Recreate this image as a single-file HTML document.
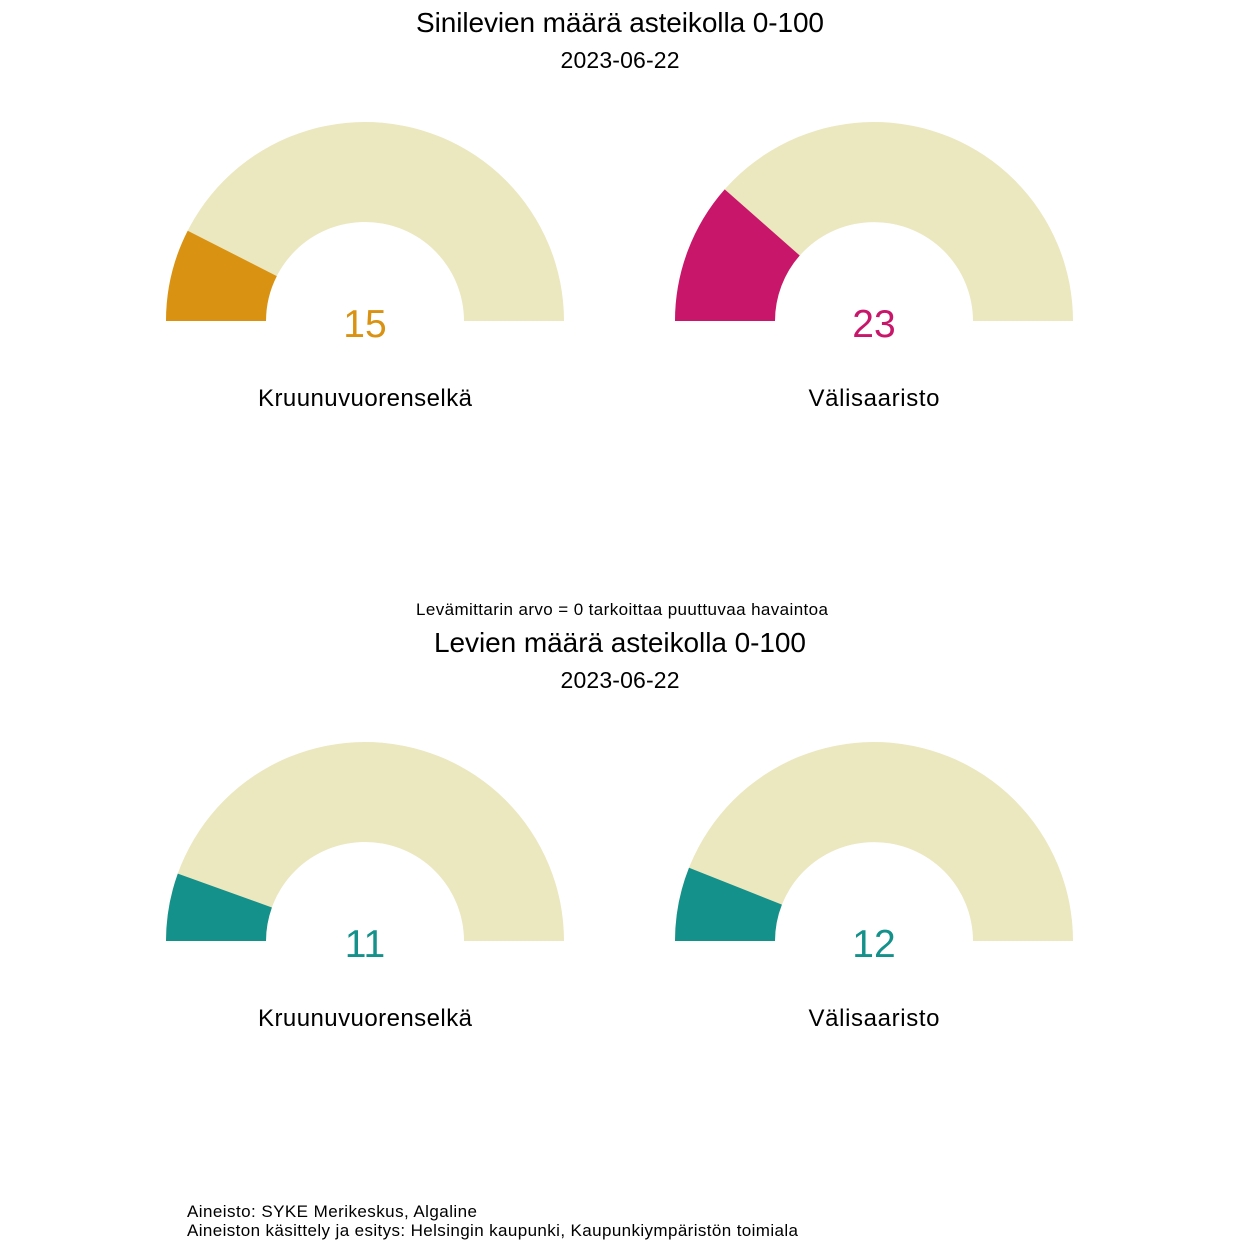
<!DOCTYPE html>
<html><head><meta charset="utf-8"><style>
html,body{margin:0;padding:0;background:#fff;}
svg{display:block;font-family:"Liberation Sans",Arial,sans-serif;}
</style></head><body>
<svg width="1240" height="1240" viewBox="0 0 1240 1240" xmlns="http://www.w3.org/2000/svg">
<rect width="1240" height="1240" fill="#fff"/>
<text x="620" y="32" font-size="28" text-anchor="middle" textLength="408" fill="#000">Sinilevien määrä asteikolla 0-100</text>
<text x="620" y="68" font-size="23" text-anchor="middle" textLength="119" fill="#000">2023-06-22</text>

<path d="M166 321 A199 199 0 0 1 564 321 L464 321 A99 99 0 0 0 266 321 Z" fill="#EBE7BF"/>
<path d="M166 321 A199 199 0 0 1 187.7 230.7 L276.8 276.1 A99 99 0 0 0 266 321 Z" fill="#DA9212"/>
<text x="365" y="337" font-size="39" text-anchor="middle" fill="#DA9212">15</text>
<text x="365" y="406" font-size="24" text-anchor="middle" textLength="214" fill="#000">Kruunuvuorenselkä</text>

<path d="M675 321 A199 199 0 0 1 1073 321 L973 321 A99 99 0 0 0 775 321 Z" fill="#EBE7BF"/>
<path d="M675 321 A199 199 0 0 1 724.7 189.4 L799.7 255.5 A99 99 0 0 0 775 321 Z" fill="#C8166B"/>
<text x="874" y="337" font-size="39" text-anchor="middle" fill="#C8166B">23</text>
<text x="874" y="406" font-size="24" text-anchor="middle" textLength="131" fill="#000">Välisaaristo</text>

<text x="622" y="615" font-size="17" text-anchor="middle" textLength="412" fill="#000">Levämittarin arvo = 0 tarkoittaa puuttuvaa havaintoa</text>
<text x="620" y="652" font-size="28" text-anchor="middle" textLength="372" fill="#000">Levien määrä asteikolla 0-100</text>
<text x="620" y="688" font-size="23" text-anchor="middle" textLength="119" fill="#000">2023-06-22</text>

<path d="M166 941 A199 199 0 0 1 564 941 L464 941 A99 99 0 0 0 266 941 Z" fill="#EBE7BF"/>
<path d="M166 941 A199 199 0 0 1 177.8 873.6 L271.9 907.5 A99 99 0 0 0 266 941 Z" fill="#13918A"/>
<text x="365" y="957" font-size="39" text-anchor="middle" fill="#13918A">11</text>
<text x="365" y="1026" font-size="24" text-anchor="middle" textLength="214" fill="#000">Kruunuvuorenselkä</text>

<path d="M675 941 A199 199 0 0 1 1073 941 L973 941 A99 99 0 0 0 775 941 Z" fill="#EBE7BF"/>
<path d="M675 941 A199 199 0 0 1 689 867.7 L781.9 904.6 A99 99 0 0 0 775 941 Z" fill="#13918A"/>
<text x="874" y="957" font-size="39" text-anchor="middle" fill="#13918A">12</text>
<text x="874" y="1026" font-size="24" text-anchor="middle" textLength="131" fill="#000">Välisaaristo</text>

<text x="187" y="1217" font-size="17" textLength="290" fill="#000">Aineisto: SYKE Merikeskus, Algaline</text>
<text x="187" y="1236" font-size="17" textLength="611" fill="#000">Aineiston käsittely ja esitys: Helsingin kaupunki, Kaupunkiympäristön toimiala</text>
</svg>
</body></html>
